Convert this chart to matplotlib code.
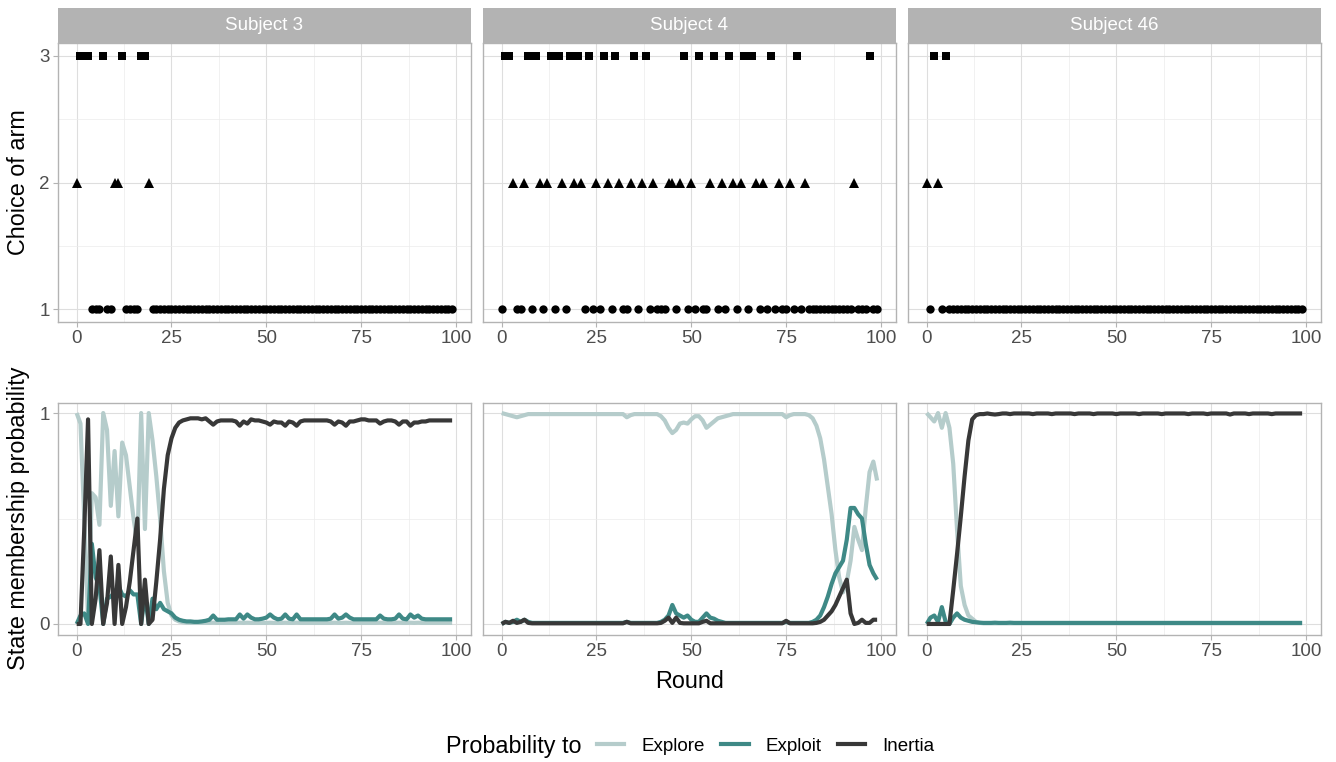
import numpy as np
import matplotlib.pyplot as plt
from matplotlib.lines import Line2D

plt.rcParams['font.family'] = ['Liberation Sans', 'DejaVu Sans']

rounds = np.arange(100)
subjects = ['Subject 3', 'Subject 4', 'Subject 46']

# chosen arm per round (1 = circle, 2 = triangle, 3 = square)
choice_s3 = [2, 3, 3, 3, 1, 1, 1, 3, 1, 1, 2, 2, 3, 1, 1, 1, 1, 3, 3, 2,
             1, 1, 1, 1, 1, 1, 1, 1, 1, 1, 1, 1, 1, 1, 1, 1, 1, 1, 1, 1,
             1, 1, 1, 1, 1, 1, 1, 1, 1, 1, 1, 1, 1, 1, 1, 1, 1, 1, 1, 1,
             1, 1, 1, 1, 1, 1, 1, 1, 1, 1, 1, 1, 1, 1, 1, 1, 1, 1, 1, 1,
             1, 1, 1, 1, 1, 1, 1, 1, 1, 1, 1, 1, 1, 1, 1, 1, 1, 1, 1, 1]
choice_s4 = [1, 3, 3, 2, 1, 1, 2, 3, 1, 3, 2, 1, 2, 3, 1, 3, 2, 1, 3, 2,
             3, 2, 1, 3, 1, 2, 1, 3, 2, 1, 3, 2, 1, 1, 2, 3, 1, 2, 3, 1,
             2, 1, 1, 1, 2, 2, 1, 2, 3, 1, 2, 1, 3, 1, 1, 2, 3, 1, 2, 1,
             3, 2, 1, 2, 3, 1, 3, 2, 1, 2, 1, 3, 1, 2, 1, 1, 2, 1, 3, 1,
             2, 1, 1, 1, 1, 1, 1, 1, 1, 1, 1, 1, 1, 2, 1, 1, 1, 3, 1, 1]
choice_s46 = [2, 1, 3, 2, 1, 3, 1, 1, 1, 1, 1, 1, 1, 1, 1, 1, 1, 1, 1, 1,
              1, 1, 1, 1, 1, 1, 1, 1, 1, 1, 1, 1, 1, 1, 1, 1, 1, 1, 1, 1,
              1, 1, 1, 1, 1, 1, 1, 1, 1, 1, 1, 1, 1, 1, 1, 1, 1, 1, 1, 1,
              1, 1, 1, 1, 1, 1, 1, 1, 1, 1, 1, 1, 1, 1, 1, 1, 1, 1, 1, 1,
              1, 1, 1, 1, 1, 1, 1, 1, 1, 1, 1, 1, 1, 1, 1, 1, 1, 1, 1, 1]

# state membership probabilities per round
explore_s3 = [1.00, 0.95, 0.50, 0.03, 0.62, 0.60, 0.47, 1.00, 0.92, 0.56,
              0.82, 0.51, 0.86, 0.80, 0.65, 0.50, 0.38, 1.00, 0.45, 1.00,
              0.87, 0.70, 0.50, 0.25, 0.10, 0.04, 0.02, 0.012, 0.008, 0.006,
              0.005, 0.005, 0.005, 0.005, 0.005, 0.005, 0.006, 0.005, 0.005, 0.005,
              0.005, 0.005, 0.005, 0.006, 0.005, 0.006, 0.005, 0.005, 0.005, 0.005,
              0.005, 0.006, 0.005, 0.005, 0.005, 0.006, 0.005, 0.005, 0.006, 0.005,
              0.005, 0.005, 0.005, 0.005, 0.005, 0.005, 0.005, 0.005, 0.006, 0.005,
              0.005, 0.006, 0.005, 0.005, 0.005, 0.005, 0.005, 0.005, 0.005, 0.005,
              0.006, 0.005, 0.005, 0.005, 0.005, 0.006, 0.005, 0.005, 0.006, 0.005,
              0.006, 0.005, 0.005, 0.005, 0.005, 0.005, 0.005, 0.005, 0.005, 0.005]
exploit_s3 = [0.00, 0.04, 0.05, 0.00, 0.38, 0.22, 0.18, 0.00, 0.12, 0.13,
              0.15, 0.18, 0.14, 0.13, 0.16, 0.14, 0.14, 0.00, 0.14, 0.00,
              0.12, 0.07, 0.10, 0.07, 0.06, 0.05, 0.03, 0.02, 0.015, 0.012,
              0.012, 0.01, 0.01, 0.012, 0.015, 0.02, 0.04, 0.02, 0.02, 0.02,
              0.022, 0.022, 0.022, 0.045, 0.025, 0.045, 0.03, 0.022, 0.022, 0.025,
              0.03, 0.045, 0.03, 0.022, 0.025, 0.045, 0.025, 0.022, 0.045, 0.022,
              0.022, 0.022, 0.022, 0.022, 0.022, 0.022, 0.022, 0.025, 0.045, 0.025,
              0.03, 0.045, 0.03, 0.022, 0.022, 0.022, 0.022, 0.022, 0.022, 0.022,
              0.04, 0.025, 0.022, 0.022, 0.025, 0.045, 0.025, 0.022, 0.045, 0.03,
              0.04, 0.025, 0.022, 0.022, 0.022, 0.022, 0.022, 0.022, 0.022, 0.022]
inertia_s3 = [0.00, 0.00, 0.45, 0.97, 0.00, 0.12, 0.35, 0.00, 0.10, 0.32,
              0.00, 0.28, 0.00, 0.08, 0.20, 0.35, 0.50, 0.00, 0.21, 0.00,
              0.02, 0.20, 0.40, 0.64, 0.80, 0.88, 0.93, 0.955, 0.965, 0.97,
              0.975, 0.975, 0.975, 0.97, 0.975, 0.96, 0.945, 0.96, 0.965, 0.965,
              0.965, 0.965, 0.96, 0.94, 0.96, 0.95, 0.97, 0.965, 0.965, 0.96,
              0.955, 0.945, 0.96, 0.955, 0.955, 0.94, 0.96, 0.955, 0.94, 0.96,
              0.965, 0.965, 0.965, 0.965, 0.965, 0.965, 0.965, 0.96, 0.945, 0.96,
              0.955, 0.94, 0.96, 0.96, 0.965, 0.97, 0.97, 0.965, 0.965, 0.965,
              0.95, 0.96, 0.965, 0.965, 0.96, 0.945, 0.96, 0.96, 0.94, 0.955,
              0.955, 0.96, 0.96, 0.965, 0.965, 0.965, 0.965, 0.965, 0.965, 0.965]

explore_s4 = [1.00, 0.995, 0.99, 0.985, 0.98, 0.985, 0.99, 0.995, 0.995, 0.995,
              0.995, 0.995, 0.995, 0.995, 0.995, 0.995, 0.995, 0.995, 0.995, 0.995,
              0.995, 0.995, 0.995, 0.995, 0.995, 0.995, 0.995, 0.995, 0.995, 0.995,
              0.995, 0.995, 0.995, 0.98, 0.99, 0.995, 0.995, 0.995, 0.995, 0.995,
              0.995, 0.995, 0.985, 0.965, 0.93, 0.905, 0.92, 0.95, 0.955, 0.95,
              0.97, 0.985, 0.985, 0.965, 0.93, 0.945, 0.96, 0.975, 0.98, 0.985,
              0.99, 0.995, 0.995, 0.995, 0.995, 0.995, 0.995, 0.995, 0.995, 0.995,
              0.995, 0.995, 0.995, 0.995, 0.995, 0.98, 0.99, 0.995, 0.995, 0.995,
              0.995, 0.99, 0.975, 0.94, 0.88, 0.78, 0.65, 0.52, 0.35, 0.22,
              0.15, 0.20, 0.30, 0.46, 0.40, 0.35, 0.55, 0.72, 0.77, 0.68]
exploit_s4 = [0.00, 0.01, 0.005, 0.01, 0.02, 0.01, 0.02, 0.01, 0.005, 0.005,
              0.005, 0.005, 0.005, 0.005, 0.005, 0.005, 0.005, 0.005, 0.005, 0.005,
              0.005, 0.005, 0.005, 0.005, 0.005, 0.005, 0.005, 0.005, 0.005, 0.005,
              0.005, 0.005, 0.005, 0.01, 0.005, 0.005, 0.005, 0.005, 0.005, 0.005,
              0.005, 0.005, 0.01, 0.02, 0.04, 0.09, 0.05, 0.04, 0.03, 0.04,
              0.02, 0.01, 0.01, 0.03, 0.05, 0.03, 0.025, 0.015, 0.01, 0.005,
              0.005, 0.005, 0.005, 0.005, 0.005, 0.005, 0.005, 0.005, 0.005, 0.005,
              0.005, 0.005, 0.005, 0.005, 0.005, 0.01, 0.005, 0.005, 0.005, 0.005,
              0.005, 0.005, 0.01, 0.02, 0.04, 0.08, 0.13, 0.19, 0.24, 0.27,
              0.30, 0.40, 0.55, 0.55, 0.52, 0.50, 0.38, 0.28, 0.24, 0.21]
inertia_s4 = [0.00, 0.01, 0.005, 0.015, 0.005, 0.01, 0.02, 0.005, 0.003, 0.003,
              0.003, 0.003, 0.003, 0.003, 0.003, 0.003, 0.003, 0.003, 0.003, 0.003,
              0.003, 0.003, 0.003, 0.003, 0.003, 0.003, 0.003, 0.003, 0.003, 0.003,
              0.003, 0.003, 0.003, 0.01, 0.003, 0.003, 0.003, 0.003, 0.003, 0.003,
              0.003, 0.003, 0.005, 0.015, 0.03, 0.005, 0.03, 0.005, 0.003, 0.003,
              0.003, 0.003, 0.003, 0.01, 0.015, 0.003, 0.003, 0.003, 0.003, 0.003,
              0.003, 0.003, 0.003, 0.003, 0.003, 0.003, 0.003, 0.003, 0.003, 0.003,
              0.003, 0.003, 0.003, 0.003, 0.003, 0.015, 0.003, 0.003, 0.003, 0.003,
              0.003, 0.003, 0.003, 0.005, 0.01, 0.02, 0.04, 0.06, 0.09, 0.13,
              0.17, 0.21, 0.05, 0.00, 0.005, 0.02, 0.005, 0.005, 0.02, 0.02]

explore_s46 = [1.00, 0.98, 0.96, 1.00, 0.93, 1.00, 0.93, 0.76, 0.45, 0.18,
               0.09, 0.04, 0.025, 0.01, 0.005, 0.003, 0.003, 0.003, 0.003, 0.003,
               0.003, 0.003, 0.003, 0.003, 0.003, 0.003, 0.003, 0.003, 0.003, 0.003,
               0.003, 0.003, 0.003, 0.003, 0.003, 0.003, 0.003, 0.003, 0.003, 0.003,
               0.003, 0.003, 0.003, 0.003, 0.003, 0.003, 0.003, 0.003, 0.003, 0.003,
               0.003, 0.003, 0.003, 0.003, 0.003, 0.003, 0.003, 0.003, 0.003, 0.003,
               0.003, 0.003, 0.003, 0.003, 0.003, 0.003, 0.003, 0.003, 0.003, 0.003,
               0.003, 0.003, 0.003, 0.003, 0.003, 0.003, 0.003, 0.003, 0.003, 0.003,
               0.003, 0.003, 0.003, 0.003, 0.003, 0.003, 0.003, 0.003, 0.003, 0.003,
               0.003, 0.003, 0.003, 0.003, 0.003, 0.003, 0.003, 0.003, 0.003, 0.003]
exploit_s46 = [0.00, 0.03, 0.04, 0.01, 0.08, 0.01, 0.00, 0.03, 0.05, 0.03,
               0.02, 0.015, 0.01, 0.008, 0.006, 0.005, 0.005, 0.005, 0.006, 0.005,
               0.005, 0.005, 0.006, 0.005, 0.005, 0.005, 0.005, 0.005, 0.005, 0.005,
               0.005, 0.005, 0.005, 0.005, 0.005, 0.005, 0.005, 0.005, 0.005, 0.005,
               0.005, 0.005, 0.005, 0.005, 0.005, 0.005, 0.005, 0.005, 0.005, 0.005,
               0.005, 0.005, 0.005, 0.005, 0.005, 0.005, 0.005, 0.005, 0.005, 0.005,
               0.005, 0.005, 0.005, 0.005, 0.005, 0.005, 0.005, 0.005, 0.005, 0.005,
               0.005, 0.005, 0.005, 0.005, 0.005, 0.005, 0.005, 0.005, 0.005, 0.005,
               0.005, 0.005, 0.005, 0.005, 0.005, 0.005, 0.005, 0.005, 0.005, 0.005,
               0.005, 0.005, 0.005, 0.005, 0.005, 0.005, 0.005, 0.005, 0.005, 0.005]
inertia_s46 = [0.00, 0.00, 0.00, 0.00, 0.00, 0.00, 0.00, 0.16, 0.33, 0.51,
               0.70, 0.87, 0.97, 0.99, 0.995, 0.995, 0.998, 0.995, 0.993, 0.995,
               0.998, 0.998, 0.995, 0.998, 0.998, 0.998, 0.998, 0.998, 0.995, 0.998,
               0.998, 0.998, 0.998, 0.995, 0.998, 0.998, 0.998, 0.998, 0.998, 0.995,
               0.998, 0.998, 0.998, 0.998, 0.995, 0.998, 0.998, 0.998, 0.998, 0.998,
               0.995, 0.998, 0.998, 0.998, 0.998, 0.998, 0.995, 0.998, 0.998, 0.998,
               0.998, 0.998, 0.995, 0.998, 0.998, 0.998, 0.998, 0.998, 0.998, 0.995,
               0.998, 0.998, 0.998, 0.998, 0.995, 0.998, 0.998, 0.998, 0.998, 0.998,
               0.993, 0.998, 0.998, 0.998, 0.998, 0.995, 0.998, 0.998, 0.998, 0.998,
               0.998, 0.995, 0.998, 0.998, 0.998, 0.998, 0.998, 0.998, 0.998, 0.998]

choices = [choice_s3, choice_s4, choice_s46]
explore = [explore_s3, explore_s4, explore_s46]
exploit = [exploit_s3, exploit_s4, exploit_s46]
inertia = [inertia_s3, inertia_s4, inertia_s46]

col_explore = '#b5cccb'
col_exploit = '#3e8986'
col_inertia = '#383838'
shapes = {1: ('o', 6.0), 2: ('^', 7.0), 3: ('s', 5.8)}

W, H = 1336, 762
fig = plt.figure(figsize=(W / 100, H / 100), dpi=100)


def box(x0, y0, x1, y1):
    # pixel box (top-left origin) -> figure fraction
    return [x0 / W, 1 - y1 / H, (x1 - x0) / W, (y1 - y0) / H]


def style(ax, show_y):
    ax.set_facecolor('white')
    for s in ax.spines.values():
        s.set_color('#b3b3b3')
        s.set_linewidth(1.0)
    ax.set_xlim(-4.95, 103.95)
    ax.set_xticks([0, 25, 50, 75, 100])
    ax.set_xticks([12.5, 37.5, 62.5, 87.5], minor=True)
    ax.grid(which='major', color='#dedede', linewidth=0.8)
    ax.grid(which='minor', color='#ececec', linewidth=0.5)
    ax.set_axisbelow(True)
    ax.tick_params(which='major', length=3.5, width=0.8, color='#b3b3b3',
                   labelsize=13.5, labelcolor='#4d4d4d', pad=2.5)
    ax.tick_params(which='minor', length=0)
    if not show_y:
        ax.tick_params(axis='y', which='both', length=0, labelleft=False)


lefts = [57.9, 482.9, 907.9]
pw = 413

for i, name in enumerate(subjects):
    x0 = lefts[i]
    # strip
    sax = fig.add_axes(box(x0, 8, x0 + pw, 43.3))
    sax.set_facecolor('#b3b3b3')
    for s in sax.spines.values():
        s.set_visible(False)
    sax.set_xticks([])
    sax.set_yticks([])
    sax.text(0.5, 0.5, name, color='white', fontsize=13.5,
             ha='center', va='center', transform=sax.transAxes)

    # choices
    ax = fig.add_axes(box(x0, 43.3, x0 + pw, 322))
    style(ax, i == 0)
    ch = np.array(choices[i])
    for arm, (mk, ms) in shapes.items():
        sel = ch == arm
        ax.plot(rounds[sel], ch[sel], linestyle='none', marker=mk,
                markersize=ms, color='black', markeredgewidth=0)
    ax.set_ylim(0.9, 3.1)
    ax.set_yticks([1, 2, 3])
    ax.set_yticks([1.5, 2.5], minor=True)

    # probabilities
    bx = fig.add_axes(box(x0, 402.5, x0 + pw, 634.5))
    style(bx, i == 0)
    for vals, c in [(explore[i], col_explore), (exploit[i], col_exploit),
                    (inertia[i], col_inertia)]:
        bx.plot(rounds, vals, color=c, linewidth=3.0,
                solid_joinstyle='round', solid_capstyle='butt')
    bx.set_ylim(-0.05, 1.05)
    bx.set_yticks([0, 1])
    bx.set_yticks([0.5], minor=True)

fig.text(19 / W, 1 - 182.6 / H, 'Choice of arm', rotation=90,
         ha='center', va='center', fontsize=16.8)
fig.text(19 / W, 1 - 518.5 / H, 'State membership probability', rotation=90,
         ha='center', va='center', fontsize=16.8)
fig.text(689.4 / W, 1 - 681 / H, 'Round', ha='center', va='center', fontsize=16.8)

fig.text(581 / W, 1 - 746 / H, 'Probability to', ha='right', va='center',
         fontsize=16.8)
handles = [Line2D([], [], color=col_explore, linewidth=3.0),
           Line2D([], [], color=col_exploit, linewidth=3.0),
           Line2D([], [], color=col_inertia, linewidth=3.0)]
fig.legend(handles, ['Explore', 'Exploit', 'Inertia'], ncol=3, frameon=False,
           loc='center left', bbox_to_anchor=(597 / W, 1 - 746 / H),
           fontsize=13.5, handlelength=1.45, handletextpad=0.9,
           columnspacing=0.9, borderaxespad=0, borderpad=0)

fig.savefig('out.png', dpi=100, facecolor='white')
